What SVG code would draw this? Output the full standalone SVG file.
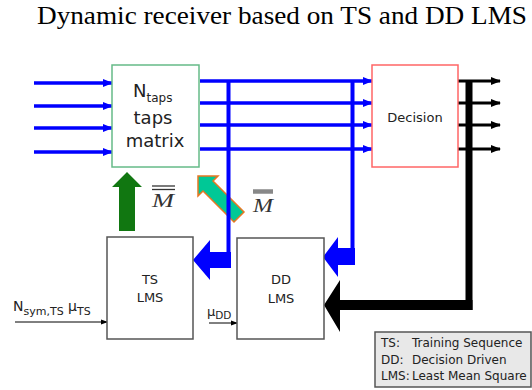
<svg xmlns="http://www.w3.org/2000/svg" width="532" height="390" viewBox="0 0 532 390">
<defs>
<marker id="ab" markerUnits="userSpaceOnUse" markerWidth="10" markerHeight="10" refX="9" refY="5" orient="auto"><path d="M0,1 L10,5 L0,9 Z" fill="#0000ff"/></marker>
<marker id="ak" markerUnits="userSpaceOnUse" markerWidth="10" markerHeight="10" refX="9" refY="5" orient="auto"><path d="M0,1 L10,5 L0,9 Z" fill="#000"/></marker>
<marker id="as" markerUnits="userSpaceOnUse" markerWidth="7" markerHeight="7" refX="6" refY="3.5" orient="auto"><path d="M0,1 L7,3.5 L0,6 Z" fill="#000"/></marker>
</defs>
<style>
.t{font-family:"DejaVu Sans",Verdana,sans-serif;fill:#222}
.box{fill:#fff;stroke:#555;stroke-width:1.5}
.bl{stroke:#0000ff;stroke-width:3.5;fill:none}
.bk{stroke:#000;stroke-width:3;fill:none}
.m{font-family:"Liberation Serif","Times New Roman",serif;font-style:italic;font-size:19px;fill:#333}
</style>
<rect width="532" height="390" fill="#fff"/>
<text x="37" y="24" font-family="Liberation Serif,Times New Roman,serif" font-size="26" textLength="490" lengthAdjust="spacingAndGlyphs" fill="#000">Dynamic receiver based on TS and DD LMS</text>

<g id="connectors">
<line class="bl" x1="34" y1="83" x2="112" y2="83" marker-end="url(#ab)"/>
<line class="bl" x1="34" y1="106" x2="112" y2="106" marker-end="url(#ab)"/>
<line class="bl" x1="34" y1="128" x2="112" y2="128" marker-end="url(#ab)"/>
<line class="bl" x1="34" y1="152" x2="112" y2="152" marker-end="url(#ab)"/>
<line class="bl" x1="200" y1="81" x2="372" y2="81" marker-end="url(#ab)"/>
<line class="bl" x1="200" y1="103" x2="372" y2="103" marker-end="url(#ab)"/>
<line class="bl" x1="200" y1="125" x2="372" y2="125" marker-end="url(#ab)"/>
<line class="bl" x1="200" y1="149" x2="372" y2="149" marker-end="url(#ab)"/>
<line class="bk" x1="458" y1="81" x2="500" y2="81" marker-end="url(#ak)"/>
<line class="bk" x1="458" y1="103" x2="500" y2="103" marker-end="url(#ak)"/>
<line class="bk" x1="458" y1="125" x2="500" y2="125" marker-end="url(#ak)"/>
<line class="bk" x1="458" y1="149" x2="500" y2="149" marker-end="url(#ak)"/>
<!-- teal arrow -->
<polygon points="198,176 218,176 213,181 244,212 234,222 203,191 198,196" fill="#00c896" stroke="#e87722" stroke-width="1.5" stroke-linejoin="miter"/>
<!-- green arrow -->
<polygon points="119,231 119,187 112,187 127,172 142,187 135,187 135,231" fill="#117711"/>
<!-- blue feedback to TS LMS -->
<line x1="228.5" y1="80" x2="228.5" y2="254" stroke="#0000ff" stroke-width="4"/>
<polygon points="231,252 231,268 210,268 210,280 193,260 210,240 210,252" fill="#0000ff"/>
<!-- blue feedback to DD LMS -->
<line x1="352.5" y1="80" x2="352.5" y2="250" stroke="#0000ff" stroke-width="4"/>
<polygon points="355,248 355,265 338,265 338,277 323,257 338,237 338,248" fill="#0000ff"/>
<!-- black feedback -->
<line x1="469" y1="80" x2="469" y2="310" stroke="#000" stroke-width="7"/>
<polygon points="472.5,300 472.5,310 340,310 340,332 324,305 340,280 340,300" fill="#000"/>
<!-- small inputs -->
<line x1="15" y1="322" x2="107" y2="322" stroke="#000" stroke-width="1" marker-end="url(#as)"/>
<line x1="209" y1="323" x2="237" y2="323" stroke="#000" stroke-width="1" marker-end="url(#as)"/>
</g>

<g id="taps">
<rect x="112" y="65" width="87" height="102" fill="#fff" stroke="#66bb88" stroke-width="1.5"/>
<text class="t" x="133" y="97" font-size="18">N<tspan font-size="12" dy="5">taps</tspan></text>
<text class="t" x="153" y="124" font-size="18" text-anchor="middle">taps</text>
<text class="t" x="155" y="147" font-size="18" text-anchor="middle">matrix</text>
</g>

<g id="decision">
<rect x="372" y="65" width="86" height="102" fill="#fff" stroke="#ff6666" stroke-width="1.5"/>
<text class="t" x="415" y="122" font-size="13" text-anchor="middle">Decision</text>
</g>

<g id="tslms">
<rect class="box" x="107" y="237" width="86" height="102"/>
<text class="t" x="150" y="284" font-size="13" text-anchor="middle">TS</text>
<text class="t" x="150" y="302" font-size="13" text-anchor="middle">LMS</text>
</g>

<g id="ddlms">
<rect class="box" x="237" y="238" width="87" height="101"/>
<text class="t" x="281" y="284" font-size="13" text-anchor="middle">DD</text>
<text class="t" x="281" y="303" font-size="13" text-anchor="middle">LMS</text>
</g>

<g id="labels">
<line x1="152" y1="186" x2="175" y2="186" stroke="#333" stroke-width="1.3"/>
<line x1="152" y1="189.5" x2="175" y2="189.5" stroke="#333" stroke-width="1.3"/>
<text class="m" x="152" y="207" textLength="22" lengthAdjust="spacingAndGlyphs">M</text>
<line x1="253" y1="191.5" x2="273" y2="191.5" stroke="#888" stroke-width="4.5"/>
<text class="m" x="253" y="212" textLength="20" lengthAdjust="spacingAndGlyphs">M</text>
<text class="t" x="13" y="311" font-size="14">N<tspan font-size="11" dy="4">sym,TS</tspan><tspan font-size="14" dy="-4"> μ</tspan><tspan font-size="11" dy="4">TS</tspan></text>
<text class="t" x="207" y="316" font-size="13">μ<tspan font-size="10.5" dy="3">DD</tspan></text>
</g>

<g id="legend">
<rect x="375" y="332" width="156" height="55" fill="#e8e8e8" stroke="#555" stroke-width="1.5"/>
<text class="t" x="381" y="347" font-size="12">TS:</text>
<text class="t" x="412" y="347" font-size="12">Training Sequence</text>
<text class="t" x="381" y="364" font-size="12">DD:</text>
<text class="t" x="412" y="364" font-size="12">Decision Driven</text>
<text class="t" x="381" y="380" font-size="12">LMS:</text>
<text class="t" x="412" y="380" font-size="12">Least Mean Square</text>
</g>
</svg>
